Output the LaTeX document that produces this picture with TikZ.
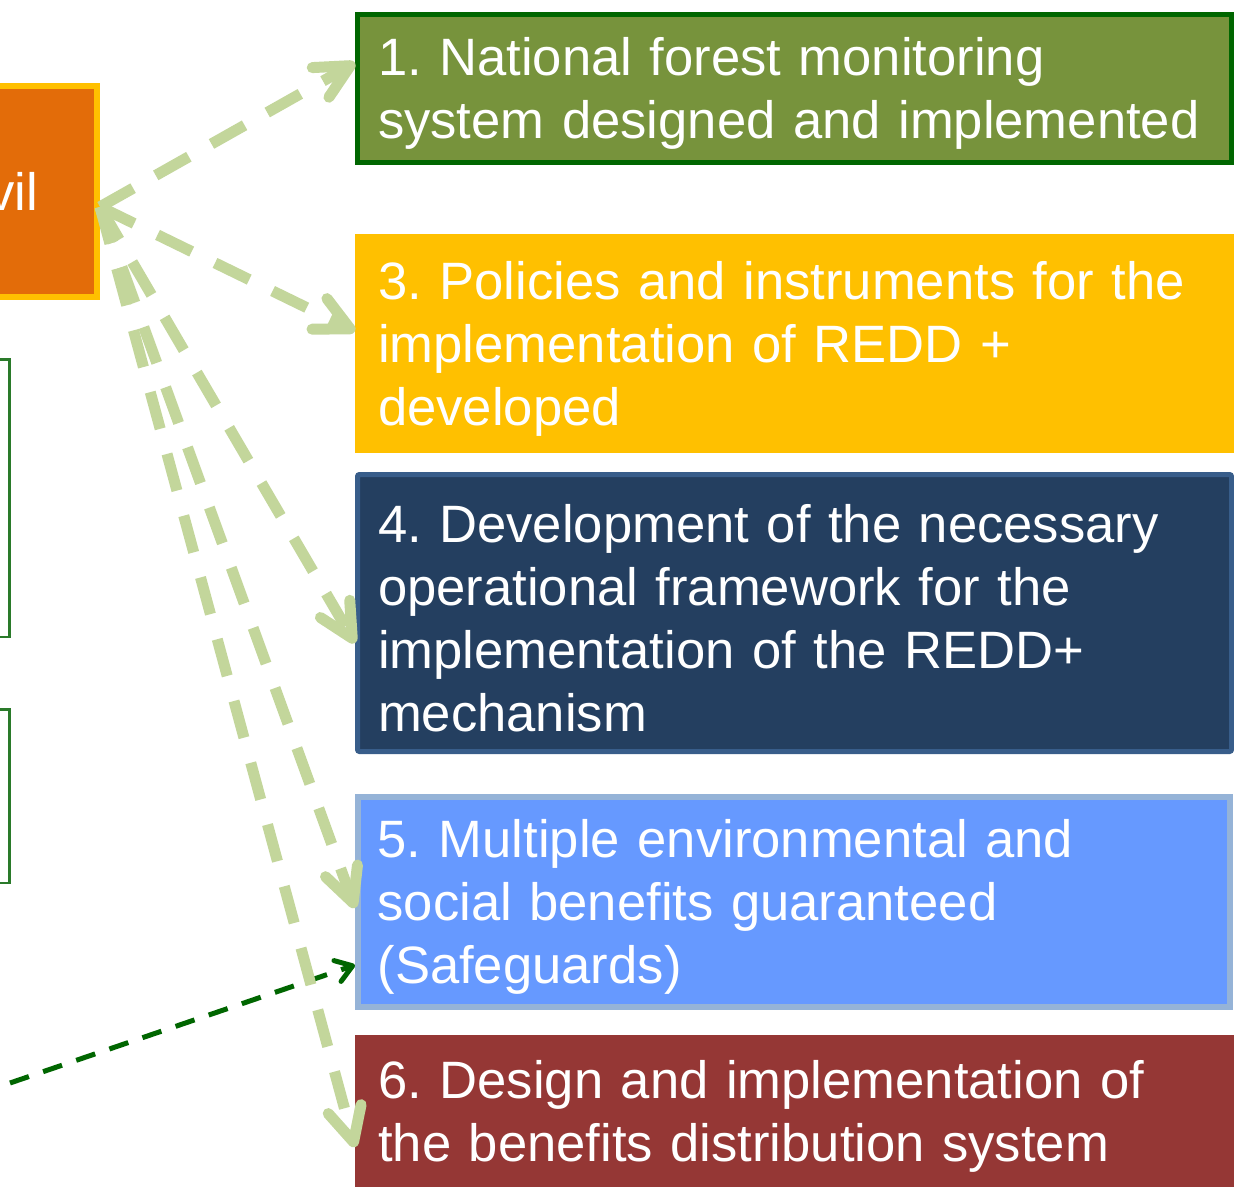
\documentclass[tikz,border=0pt]{standalone}
\usepackage{fontspec}
\setmainfont{Liberation Sans}
\usetikzlibrary{positioning,arrows.meta,calc}
\definecolor{srcfill}{HTML}{E36C09}
\definecolor{srcline}{HTML}{FFC000}
\definecolor{monfill}{HTML}{77933C}
\definecolor{monline}{HTML}{006600}
\definecolor{polfill}{HTML}{FFC000}
\definecolor{opsfill}{HTML}{243F60}
\definecolor{opsline}{HTML}{385D8A}
\definecolor{safefill}{HTML}{6699FF}
\definecolor{safeline}{HTML}{95B3D7}
\definecolor{benfill}{HTML}{953735}
\definecolor{leftline}{HTML}{2A7A2A}
\definecolor{linkgreen}{HTML}{C3D69B}
\definecolor{flowgreen}{HTML}{006600}
\frenchspacing

\begin{document}
\begin{tikzpicture}[
  x=1pt,y=-1pt,
  box/.style={anchor=north west,text=white,font=\fontsize{52.6}{63}\selectfont,
    align=left,text width=833pt,inner sep=0pt,
    execute at end node={\endgraf\vspace*{-10pt}}},
  lbox/.style={anchor=north east,draw=leftline,line width=2.5pt,fill=white,
    minimum width=200pt},
  link/.style={draw=linkgreen,line width=11pt,dash pattern=on 38pt off 26pt,
    -{Straight Barb[length=34pt,width=34pt,round]}},
  flow/.style={draw=flowgreen,line width=5pt,dash pattern=on 20pt off 15pt,
    -{Straight Barb[length=16pt,width=22pt,round]}}
]
\path[use as bounding box,fill=white] (0,0) rectangle (1234,1186);
% left column, cut off by the frame
\node[anchor=north east,draw=srcline,fill=srcfill,line width=6pt,text=white,
  font=\fontsize{52.6}{63}\selectfont,minimum width=168pt,minimum height=211pt,
  inner sep=0pt] (src) at (100,83) {vil};
\node[lbox,minimum height=277.5pt] (la) at (10.5,358) {};
\node[lbox,minimum height=173.5pt] (lb) at (10.5,708) {};
\coordinate (fsrc) at (10,1083);
% result boxes
\node[box,fill=monfill,draw=monline,line width=5pt,minimum width=874pt,
  minimum height=148pt] (b1) at (355,12)
  {1. National forest monitoring\\system designed and implemented};
\node[box,fill=polfill,minimum width=879pt,minimum height=219pt] (b3) at (355,234)
  {3. Policies and instruments for the\\implementation of REDD +\\developed};
\node[box,fill=opsfill,draw=opsline,line width=5pt,rounded corners=2pt,
  minimum width=874pt,minimum height=277pt] (b4) at (355,472)
  {4. Development of the necessary\\operational framework for the\\implementation of the REDD+\\mechanism};
\node[box,fill=safefill,draw=safeline,line width=6pt,minimum width=872pt,
  minimum height=210pt] (b5) at (355,794)
  {5. Multiple environmental and\\social benefits guaranteed\\(Safeguards)};
\node[box,fill=benfill,minimum width=879pt,minimum height=153pt] (b6) at (355,1035)
  {6. Design and implementation of\\the benefits distribution system};
% connectors
\draw[flow] (fsrc) -- ($(b5.west)+(0,63)$);
\draw[link] (src.350) -- ($(b1.west)+(0,-25.5)$);
\draw[link] (src.350) -- ($(b3.west)+(0,-12.5)$);
\draw[link] (src.350) -- ($(b4.west)+(0,30)$);
\draw[link] (src.350) -- ($(b5.west)+(0,6)$);
\draw[link] (src.350) -- ($(b6.west)+(0,35.5)$);
\end{tikzpicture}
\end{document}
